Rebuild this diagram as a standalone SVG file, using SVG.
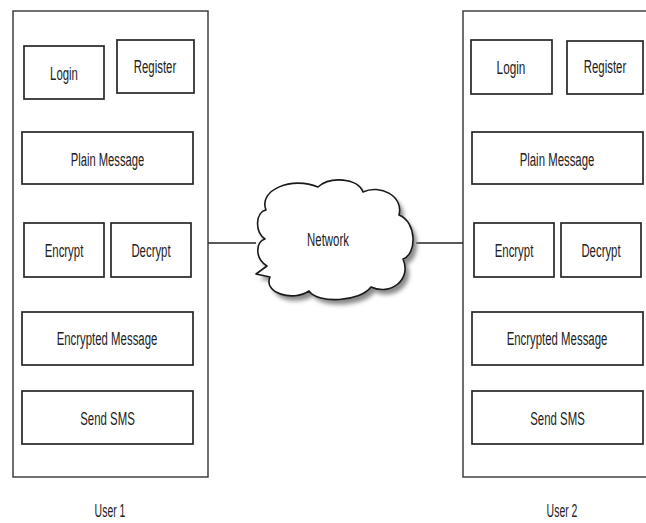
<svg xmlns="http://www.w3.org/2000/svg" xmlns:xlink="http://www.w3.org/1999/xlink" width="646" height="523" viewBox="0 0 646 523">
  <style>
    .frame { fill: #ffffff; stroke: #333333; stroke-width: 1.4; }
    .box { fill: #ffffff; stroke: #262626; stroke-width: 1.7; }
    .label { font-family: "Liberation Sans", Arial, sans-serif; font-size: 19px; fill: #222222; text-anchor: middle; }
    .wire { stroke: #222222; stroke-width: 1.5; fill: none; }
    .cloud { fill: #ffffff; stroke: #1a1a1a; stroke-width: 1.6; stroke-linejoin: round; }
  </style>
  <defs>
    <path id="cloudShape" d="M 266,210 C 258,190 292,176 318,187 C 330,176 358,178 363,192 C 380,184 404,196 399,215 C 417,222 417,254 403,259 C 412,280 390,296 371,287 C 360,302 318,304 309,291 C 293,302 263,293 270,277 L 256,274 L 267,266 C 254,258 256,241 265,239 C 254,231 256,212 266,210 Z"/>
    <filter id="softShadow" x="-20%" y="-20%" width="140%" height="140%">
      <feGaussianBlur stdDeviation="2"/>
    </filter>
  </defs>

  <rect width="646" height="523" fill="#ffffff"/>

  <!-- connectors between the user panels and the network -->
  <g id="connectors">
    <line class="wire" x1="208" y1="243" x2="256" y2="243"/>
    <line class="wire" x1="416" y1="243" x2="463" y2="243"/>
  </g>

  <!-- left user panel; labels are set in a condensed cut via scale(0.6 1) -->
  <g id="user1">
    <rect class="frame" x="13" y="11" width="195" height="466"/>
    <text class="label" transform="translate(110 517) scale(0.55 1)">User 1</text>
  </g>
  <g id="u1-login">
    <rect class="box" x="24" y="46" width="80" height="53"/>
    <text class="label" transform="translate(64 80) scale(0.6 1)">Login</text>
  </g>
  <g id="u1-register">
    <rect class="box" x="117" y="40" width="77" height="53"/>
    <text class="label" transform="translate(155 73) scale(0.6 1)">Register</text>
  </g>
  <g id="u1-plain">
    <rect class="box" x="22" y="132" width="171" height="52"/>
    <text class="label" transform="translate(107.5 166) scale(0.59 1)">Plain Message</text>
  </g>
  <g id="u1-encrypt">
    <rect class="box" x="24" y="223" width="80" height="54"/>
    <text class="label" transform="translate(64 257) scale(0.6 1)">Encrypt</text>
  </g>
  <g id="u1-decrypt">
    <rect class="box" x="111" y="223" width="80" height="54"/>
    <text class="label" transform="translate(151 257) scale(0.6 1)">Decrypt</text>
  </g>
  <g id="u1-encrypted">
    <rect class="box" x="22" y="312" width="171" height="53"/>
    <text class="label" transform="translate(107 345) scale(0.6 1)">Encrypted Message</text>
  </g>
  <g id="u1-sms">
    <rect class="box" x="22" y="391" width="171" height="53"/>
    <text class="label" transform="translate(107.5 425) scale(0.6 1)">Send SMS</text>
  </g>

  <!-- network cloud with a soft drop shadow -->
  <g id="network">
    <use xlink:href="#cloudShape" href="#cloudShape" transform="translate(4,5)" fill="#8a8a8a" filter="url(#softShadow)"/>
    <use xlink:href="#cloudShape" href="#cloudShape" class="cloud"/>
    <text class="label" transform="translate(328 246) scale(0.6 1)">Network</text>
  </g>

  <!-- right user panel (its right side runs to the page edge) -->
  <g id="user2">
    <rect class="frame" x="463" y="11" width="185" height="466"/>
    <text class="label" transform="translate(562 517) scale(0.55 1)">User 2</text>
  </g>
  <g id="u2-login">
    <rect class="box" x="471" y="40" width="81" height="54"/>
    <text class="label" transform="translate(511 74) scale(0.62 1)">Login</text>
  </g>
  <g id="u2-register">
    <rect class="box" x="567" y="41" width="76" height="53"/>
    <text class="label" transform="translate(605 73) scale(0.6 1)">Register</text>
  </g>
  <g id="u2-plain">
    <rect class="box" x="472" y="132" width="171" height="52"/>
    <text class="label" transform="translate(557 166) scale(0.6 1)">Plain Message</text>
  </g>
  <g id="u2-encrypt">
    <rect class="box" x="474" y="223" width="80" height="54"/>
    <text class="label" transform="translate(514 257) scale(0.6 1)">Encrypt</text>
  </g>
  <g id="u2-decrypt">
    <rect class="box" x="561" y="223" width="80" height="54"/>
    <text class="label" transform="translate(601 257) scale(0.6 1)">Decrypt</text>
  </g>
  <g id="u2-encrypted">
    <rect class="box" x="472" y="312" width="171" height="53"/>
    <text class="label" transform="translate(557 345) scale(0.6 1)">Encrypted Message</text>
  </g>
  <g id="u2-sms">
    <rect class="box" x="472" y="391" width="171" height="53"/>
    <text class="label" transform="translate(557.5 425) scale(0.6 1)">Send SMS</text>
  </g>
</svg>
